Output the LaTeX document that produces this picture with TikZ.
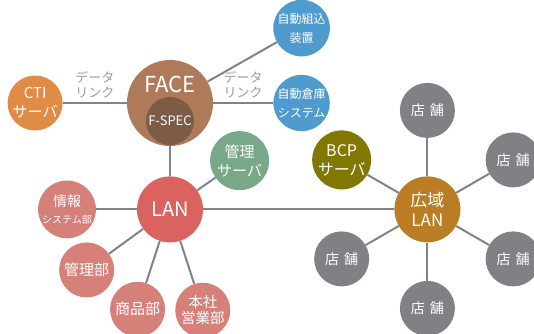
\documentclass[tikz,border=0pt]{standalone}
\usepackage{fontspec}
\setmainfont{Noto Sans CJK JP}
\usetikzlibrary{positioning}
\definecolor{facebrown}{RGB}{174,122,90}
\definecolor{fspecbrown}{RGB}{125,92,70}
\definecolor{ctiorange}{RGB}{225,140,70}
\definecolor{sysblue}{RGB}{80,155,205}
\definecolor{mgmtgreen}{RGB}{120,168,135}
\definecolor{lanred}{RGB}{218,99,96}
\definecolor{deptpink}{RGB}{214,128,122}
\definecolor{bcpolive}{RGB}{128,120,0}
\definecolor{wanorange}{RGB}{186,125,35}
\definecolor{storegray}{RGB}{128,129,133}
\definecolor{linegray}{RGB}{130,130,135}
\definecolor{labelgray}{RGB}{155,155,155}
\newcommand{\fsz}[2]{\fontsize{#1}{#2}\selectfont}
\tikzset{
    disc/.style = {circle, inner sep=0pt, text=white, align=center},
    hub/.style = {disc, minimum size=66pt},
    sat/.style = {disc, minimum size=55pt},
    store/.style = {sat, fill=storegray, font=\fsz{14}{16}},
    dept/.style = {sat, fill=deptpink, font=\fsz{15}{17}},
    conn/.style = {draw=linegray, line width=2pt},
    linklbl/.style = {text=labelgray, align=center, font=\fsz{13}{15}}
}
\begin{document}
\begin{tikzpicture}[x=1pt, y=1pt]
    \useasboundingbox (0,0) rectangle (534,333);

    % FACE and its links
    \node[disc, fill=facebrown, minimum size=86pt] (face) at (170,230) {};
    \node[disc, fill=fspecbrown, minimum size=48pt, font=\fsz{13}{15}] (fspec) at ([yshift=-18pt]face.center) {F-SPEC};
    \node[text=white, font=\fsz{22}{24}] (facelbl) at ([yshift=19pt]face.center) {FACE};
    \node[sat, fill=ctiorange, font=\fsz{15}{19}, left=64pt of face] (cti) {CTI\\サーバ};
    \node[sat, fill=sysblue, font=\fsz{12}{19}, right=60pt of face] (warehouse) {自動倉庫\\システム};
    \node[sat, fill=sysblue, font=\fsz{12}{19}, above=18pt of warehouse] (embedded) {自動組込\\装置};

    % LAN side
    \node[hub, fill=lanred, font=\fsz{20}{22}, below=30pt of face] (lan) {LAN};
    \node[disc, fill=mgmtgreen, minimum size=59pt, font=\fsz{15}{19}] (mgmtsrv) at ([shift={(35:85)}]lan) {管理\\サーバ};
    \node[dept, font=\fsz{14}{17}] (infosys) at ([shift={(180:103)}]lan) {情報\\{\fsz{10}{12}システム部}};
    \node[dept] (admin) at ([shift={(216:103)}]lan) {管理部};
    \node[dept] (goods) at ([shift={(252:105)}]lan) {商品部};
    \node[dept, font=\fsz{14.5}{16}] (sales) at ([shift={(288:106)}]lan) {本社\\営業部};

    % wide area LAN
    \node[hub, fill=wanorange, font=\fsz{17}{20}, right=191pt of lan] (wan) {広域\\LAN};
    \node[disc, fill=bcpolive, minimum size=59pt, font=\fsz{16}{19}] (bcp) at ([shift={(150:99)}]wan) {BCP\\サーバ};
    \node[store] (storeN) at ([shift={(90:99)}]wan) {店\hspace{5pt}舗};
    \node[store] (storeNE) at ([shift={(30:99)}]wan) {店\hspace{5pt}舗};
    \node[store] (storeSE) at ([shift={(-30:99)}]wan) {店\hspace{5pt}舗};
    \node[store] (storeS) at ([shift={(-90:99)}]wan) {店\hspace{5pt}舗};
    \node[store] (storeSW) at ([shift={(210:99)}]wan) {店\hspace{5pt}舗};

    % Lines
    \draw[conn] (cti) -- (face) node[midway, above=1pt, linklbl] (linkleft) {データ\\リンク};
    \draw[conn] (face) -- (warehouse) node[midway, above=1pt, linklbl] (linkright) {データ\\リンク};
    \draw[conn] (face) -- (embedded);
    \draw[conn] (face) -- (lan);
    \draw[conn] (lan) -- (mgmtsrv);
    \draw[conn] (lan) -- (infosys);
    \draw[conn] (lan) -- (admin);
    \draw[conn] (lan) -- (goods);
    \draw[conn] (lan) -- (sales);
    \draw[conn] (lan) -- (wan);
    \draw[conn] (wan) -- (bcp);
    \draw[conn] (wan) -- (storeN);
    \draw[conn] (wan) -- (storeNE);
    \draw[conn] (wan) -- (storeSE);
    \draw[conn] (wan) -- (storeS);
    \draw[conn] (wan) -- (storeSW);
\end{tikzpicture}
\end{document}
